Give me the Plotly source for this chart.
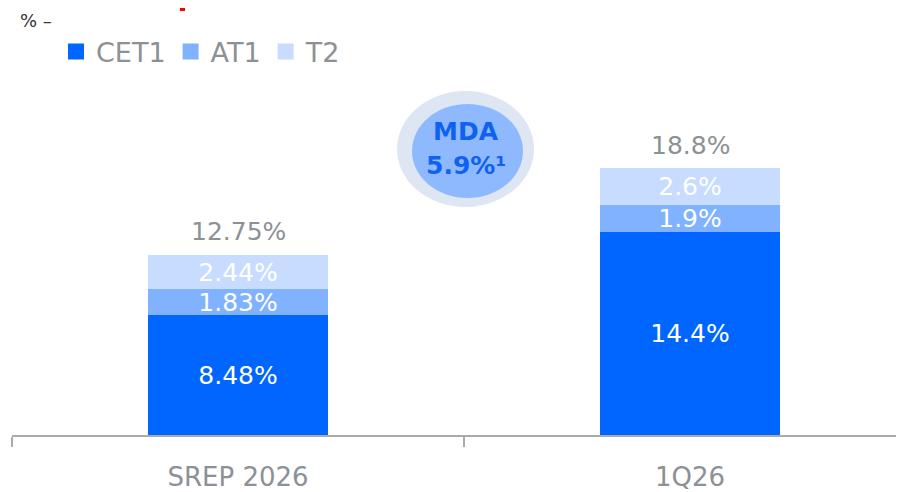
import plotly.graph_objects as go

categories = ["SREP 2026", "1Q26"]
cet1 = [8.48, 14.4]
at1 = [1.83, 1.9]
t2 = [2.44, 2.6]
cet1_labels = ["8.48%", "14.4%"]
at1_labels = ["1.83%", "1.9%"]
t2_labels = ["2.44%", "2.6%"]
total_labels = ["12.75%", "18.8%"]
series_names = ["CET1", "AT1", "T2"]
colors = ["#0066FF", "#80B2FF", "#C7DCFF"]

FONT = "DejaVu Sans"
GREY = "#8C9195"

fig = go.Figure()
for name, vals, labs, col in zip(series_names, [cet1, at1, t2],
                                 [cet1_labels, at1_labels, t2_labels], colors):
    fig.add_trace(go.Bar(
        x=categories, y=vals, name=name, marker=dict(color=col, line=dict(width=0)),
        text=labs, textposition="inside", insidetextanchor="middle",
        constraintext="none", textangle=0,
        textfont=dict(family=FONT, size=25, color="white"),
        width=0.4, showlegend=False, hoverinfo="skip", cliponaxis=False,
    ))
    fig.add_trace(go.Scatter(
        x=[None], y=[None], mode="markers", name=name,
        marker=dict(symbol="square", size=18, color=col),
    ))

totals = [a + b + c for a, b, c in zip(cet1, at1, t2)]
for cat, tot, lab in zip(categories, totals, total_labels):
    fig.add_annotation(x=cat, y=tot, text=lab, showarrow=False, yanchor="middle",
                       yshift=23, font=dict(family=FONT, size=25, color=GREY))

# screen-pixel helpers relative to the plot area (x 12..904, y 80..435)
def px_x(p):
    return (p - 12) / 892

def px_y(p):
    return (435 - p) / 355

# MDA bubble
fig.add_shape(type="circle", xref="paper", yref="paper",
              x0=px_x(397), x1=px_x(534), y0=px_y(207), y1=px_y(91),
              fillcolor="#DDE6F2", line=dict(width=0), layer="above")
fig.add_shape(type="circle", xref="paper", yref="paper",
              x0=px_x(412), x1=px_x(523), y0=px_y(198), y1=px_y(104),
              fillcolor="#8FB9FF", line=dict(width=0), layer="above")
fig.add_annotation(xref="paper", yref="paper", x=px_x(466), y=px_y(131),
                   xanchor="center", yanchor="middle",
                   text="<b>MDA</b>", showarrow=False,
                   font=dict(family=FONT, size=25, color="#0F62F0"))
fig.add_annotation(xref="paper", yref="paper", x=px_x(466), y=px_y(165),
                   xanchor="center", yanchor="middle",
                   text="<b>5.9%¹</b>", showarrow=False,
                   font=dict(family=FONT, size=25, color="#0F62F0"))

# unit label
fig.add_annotation(xref="paper", yref="paper", x=px_x(18), y=px_y(20),
                   xanchor="left", yanchor="middle", text="% –", showarrow=False,
                   font=dict(family=FONT, size=18, color="#333333"))
# cut-off red mark at top
fig.add_shape(type="rect", xref="paper", yref="paper",
              x0=px_x(180), x1=px_x(185), y0=px_y(11), y1=px_y(7),
              fillcolor="#FF0000", line=dict(width=0))

fig.update_layout(
    barmode="stack", bargap=0.6,
    width=904, height=492,
    margin=dict(l=4, r=8, t=72, b=65),
    plot_bgcolor="white", paper_bgcolor="white",
    font=dict(family=FONT, color=GREY),
    legend=dict(orientation="h", x=px_x(56), y=px_y(52), xanchor="left", yanchor="middle",
                font=dict(family=FONT, size=27, color=GREY), itemsizing="trace",
                bgcolor="rgba(0,0,0,0)", traceorder="normal"),
    xaxis=dict(range=[-0.5, -0.5 + 892 / 452], showline=True, linecolor="#AAAAAA",
               linewidth=1.5, ticks="outside", tickson="boundaries", ticklen=10,
               tickcolor="#AAAAAA", tickwidth=1.5, showgrid=False, fixedrange=True,
               tickfont=dict(family=FONT, size=26, color=GREY), ticklabelstandoff=18),
    yaxis=dict(range=[0, 355 / 14.12], visible=False, showgrid=False, zeroline=False),
)

fig.write_html("out.html")
